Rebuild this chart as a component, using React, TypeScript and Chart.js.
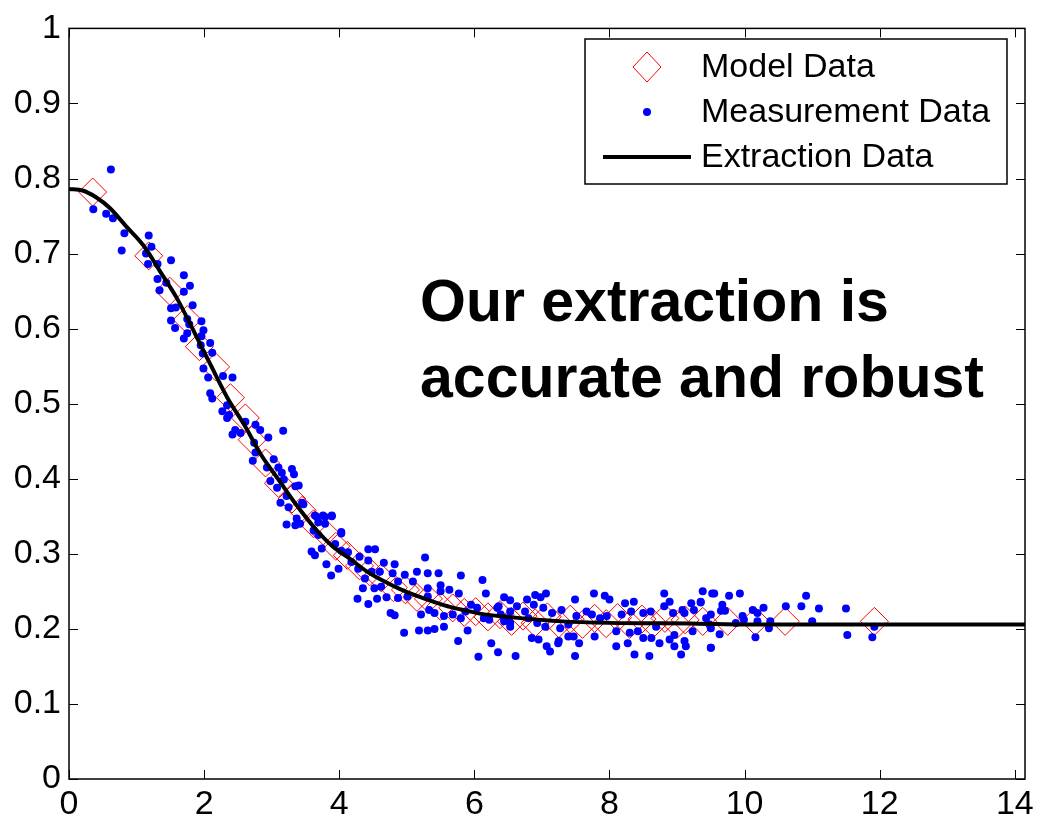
import React, { useEffect, useRef } from 'react';
import { Chart, registerables } from 'chart.js';

Chart.register(...registerables);

const FONT = "'Liberation Sans', Arial, sans-serif";

const xTickValues = [0, 2, 4, 6, 8, 10, 12, 14];
const yTickValues = [0, 0.1, 0.2, 0.3, 0.4, 0.5, 0.6, 0.7, 0.8, 0.9, 1];
const xMin = 0;
const xMax = 14.15;
const yMin = 0;
const yMax = 1;

const legendLabels = ['Model Data', 'Measurement Data', 'Extraction Data'];
const annotationLines = ['Our extraction is', 'accurate and robust'];

const extractionX = [0, 0.2, 0.4, 0.6, 0.85, 1.1, 1.35, 1.6, 1.85, 2.1, 2.35, 2.6, 2.85, 3.1, 3.35, 3.65, 3.9, 4.15, 4.4, 4.65, 4.9, 5.15, 5.4, 5.65, 5.9, 6.1, 6.6, 7.3, 8, 9.3, 10, 12, 14.15];
const extractionY = [0.786, 0.784, 0.775, 0.761, 0.736, 0.711, 0.676, 0.640, 0.596, 0.551, 0.507, 0.471, 0.431, 0.399, 0.367, 0.333, 0.310, 0.294, 0.277, 0.264, 0.253, 0.244, 0.236, 0.229, 0.224, 0.220, 0.215, 0.210, 0.208, 0.207, 0.206, 0.206, 0.206];

const modelX = [0.35, 1.18, 1.49, 1.75, 1.93, 2.17, 2.39, 2.61, 2.71, 2.91, 3.10, 3.30, 3.45, 3.62, 3.79, 3.95, 4.12, 4.30, 4.45, 4.62, 4.80, 4.98, 5.15, 5.32, 5.50, 5.68, 5.85, 6.02, 6.20, 6.38, 6.55, 6.72, 6.90, 7.08, 7.25, 7.42, 7.60, 7.78, 7.95, 8.12, 8.30, 8.48, 8.65, 8.82, 9.00, 9.12, 9.38, 9.75, 10.16, 10.60, 11.92];
const modelY = [0.782, 0.697, 0.650, 0.612, 0.576, 0.549, 0.508, 0.481, 0.452, 0.421, 0.394, 0.373, 0.358, 0.340, 0.328, 0.310, 0.298, 0.284, 0.276, 0.268, 0.255, 0.252, 0.242, 0.240, 0.230, 0.228, 0.222, 0.223, 0.216, 0.219, 0.210, 0.217, 0.208, 0.216, 0.207, 0.213, 0.206, 0.214, 0.207, 0.215, 0.206, 0.213, 0.207, 0.214, 0.206, 0.212, 0.210, 0.210, 0.210, 0.210, 0.210];

const measX = [
  0.62, 0.36, 0.55, 0.65, 0.82, 0.78, 1.18, 1.22, 1.14, 1.17, 1.31, 1.51, 1.31, 1.44, 1.34, 1.70, 1.79, 1.70, 1.83, 1.51,
  1.58, 1.51, 1.57, 1.75, 1.78, 1.96, 1.99, 1.70, 1.75, 1.96, 1.95, 2.09, 2.12,
  1.98, 1.99, 2.06, 2.28, 2.42, 2.09, 2.12, 2.34, 2.27, 2.37, 2.34, 2.61, 2.76, 2.83, 2.46, 2.54, 2.42, 2.95, 3.17, 2.74,
  2.76, 2.72, 3.03, 2.93, 3.10, 3.30, 3.33, 3.15, 2.98, 3.18, 3.35, 3.08, 3.22, 3.13, 3.45, 3.25, 3.64, 3.79, 3.89, 3.69,
  3.37, 3.22, 3.35, 4.03,
  3.40, 3.47, 3.42, 3.67, 3.76, 3.89, 3.79, 3.62, 3.69, 4.03, 3.59, 3.74, 3.64, 3.94, 4.03, 4.13, 3.81, 3.99, 3.88, 4.18,
  4.30, 4.43, 4.53, 4.43, 4.66, 4.82, 4.28, 4.48, 4.60, 4.38, 4.35, 4.52, 4.62, 4.27, 4.43, 4.56, 4.70, 4.79, 4.87, 4.97,
  5.09, 4.87, 5.01, 4.76, 4.82, 5.15, 5.27, 5.31, 5.47, 5.31, 5.31, 5.50, 5.50, 5.63, 5.77, 5.80, 6.12, 6.17, 6.44, 6.53,
  5.21, 5.33, 5.41, 5.55, 5.68, 5.80, 5.87, 5.95, 6.04, 6.14, 6.22, 6.34, 6.44, 6.53, 5.18, 5.31, 5.41, 5.55, 4.96, 5.76,
  5.90, 6.25, 6.06, 6.35, 6.61,
  6.36, 6.53, 6.63, 6.78, 6.90, 6.98, 7.06, 6.88, 6.75, 7.02, 7.15, 7.29, 7.49, 6.44, 6.53, 6.80, 6.93, 7.05, 7.27, 7.39,
  7.51, 7.66, 7.77, 7.93, 8.00, 7.74, 7.86, 7.96, 6.85, 6.95, 7.07, 7.12, 7.25, 7.39, 7.47, 7.55, 7.49, 7.24, 7.78, 8.10,
  8.10, 8.27, 8.37, 8.23, 8.36, 8.18, 8.32, 8.50, 8.61, 8.30, 8.42, 8.50, 8.62, 8.59, 8.74, 8.69, 8.81, 8.89, 8.81, 8.94,
  8.89, 8.96, 8.96, 9.06, 9.08, 9.11, 9.11, 9.13, 9.23, 9.21, 9.25, 9.35, 9.38, 9.52, 9.50, 9.50, 9.48, 6.39, 6.49,
  9.55, 9.77, 9.93, 9.35, 9.67, 9.65, 9.71, 9.43, 9.50, 9.63, 9.50, 9.87, 9.97, 9.99, 10.12, 10.19, 10.28, 10.19, 10.16,
  10.36, 10.38, 10.61, 10.84, 10.91, 11.10, 11.00, 11.50, 11.52, 11.92, 11.89
];
const measY = [
  0.812, 0.759, 0.753, 0.747, 0.727, 0.704, 0.724, 0.709, 0.700, 0.686, 0.686, 0.691, 0.666, 0.661, 0.651, 0.671, 0.657, 0.649, 0.631, 0.627,
  0.628, 0.611, 0.601, 0.613, 0.606, 0.610, 0.598, 0.587, 0.594, 0.590, 0.578, 0.581, 0.568,
  0.567, 0.547, 0.535, 0.537, 0.535, 0.514, 0.507, 0.498, 0.490, 0.485, 0.481, 0.476, 0.472, 0.465, 0.465, 0.461, 0.459, 0.455, 0.464, 0.448,
  0.435, 0.424, 0.426, 0.415, 0.415, 0.413, 0.406, 0.408, 0.397, 0.399, 0.390, 0.388, 0.377, 0.368, 0.368, 0.362, 0.351, 0.349, 0.350, 0.342,
  0.347, 0.339, 0.338, 0.329,
  0.391, 0.366, 0.340, 0.349, 0.351, 0.351, 0.340, 0.331, 0.325, 0.327, 0.303, 0.307, 0.298, 0.313, 0.304, 0.302, 0.286, 0.280, 0.271, 0.289,
  0.296, 0.306, 0.306, 0.291, 0.288, 0.286, 0.280, 0.276, 0.276, 0.267, 0.254, 0.254, 0.256, 0.240, 0.233, 0.240, 0.242, 0.274, 0.263, 0.272,
  0.263, 0.241, 0.243, 0.221, 0.218, 0.276, 0.295, 0.274, 0.274, 0.254, 0.243, 0.258, 0.250, 0.252, 0.247, 0.271, 0.265, 0.247, 0.242, 0.238,
  0.219, 0.225, 0.221, 0.217, 0.219, 0.214, 0.223, 0.232, 0.228, 0.214, 0.212, 0.228, 0.214, 0.208, 0.198, 0.198, 0.200, 0.203, 0.195, 0.184,
  0.198, 0.181, 0.163, 0.169, 0.164,
  0.230, 0.223, 0.230, 0.239, 0.245, 0.242, 0.247, 0.232, 0.223, 0.228, 0.221, 0.225, 0.239, 0.210, 0.203, 0.214, 0.208, 0.203, 0.201, 0.206,
  0.217, 0.223, 0.247, 0.244, 0.239, 0.219, 0.214, 0.217, 0.188, 0.186, 0.177, 0.170, 0.184, 0.190, 0.190, 0.181, 0.164, 0.181, 0.190, 0.197,
  0.177, 0.181, 0.166, 0.234, 0.236, 0.219, 0.223, 0.221, 0.223, 0.195, 0.197, 0.188, 0.188, 0.164, 0.181, 0.203, 0.247, 0.236, 0.230, 0.221,
  0.186, 0.192, 0.177, 0.166, 0.225, 0.221, 0.184, 0.177, 0.197, 0.234, 0.225, 0.235, 0.250, 0.247, 0.219, 0.175, 0.206, 0.219, 0.214,
  0.247, 0.244, 0.247, 0.236, 0.232, 0.224, 0.224, 0.214, 0.201, 0.193, 0.175, 0.208, 0.217, 0.212, 0.225, 0.221, 0.228, 0.210, 0.189,
  0.201, 0.210, 0.230, 0.230, 0.244, 0.227, 0.210, 0.227, 0.192, 0.203, 0.189
];

const toPoints = (xs: number[], ys: number[]) => xs.map((x, i) => ({ x, y: ys[i] }));

const framePlugin = {
  id: 'matlabFrame',
  afterDatasetsDraw(chart: any) {
    const { ctx, chartArea } = chart;
    const xs = chart.scales.x;
    const ys = chart.scales.y;
    const { left, right, top, bottom } = chartArea;
    ctx.save();
    // annotation text
    ctx.fillStyle = '#000';
    ctx.font = `bold 59px ${FONT}`;
    ctx.textAlign = 'left';
    ctx.textBaseline = 'alphabetic';
    ctx.fillText(annotationLines[0], 420, 321);
    ctx.fillText(annotationLines[1], 420, 397);

    // frame
    ctx.strokeStyle = '#000';
    ctx.lineWidth = 1.5;
    ctx.strokeRect(left, top, right - left, bottom - top);
    // ticks inward
    const tl = 9;
    ctx.lineWidth = 1;
    ctx.beginPath();
    xTickValues.forEach((v) => {
      const px = Math.round(xs.getPixelForValue(v)) + 0.5;
      ctx.moveTo(px, bottom);
      ctx.lineTo(px, bottom - tl);
      ctx.moveTo(px, top);
      ctx.lineTo(px, top + tl);
    });
    yTickValues.forEach((v) => {
      const py = Math.round(ys.getPixelForValue(v)) + 0.5;
      ctx.moveTo(left, py);
      ctx.lineTo(left + tl, py);
      ctx.moveTo(right, py);
      ctx.lineTo(right - tl, py);
    });
    ctx.stroke();

    // legend
    const bx = 585, by = 39, bw = 422, bh = 145;
    ctx.fillStyle = '#fff';
    ctx.fillRect(bx, by, bw, bh);
    ctx.lineWidth = 1.5;
    ctx.strokeStyle = '#000';
    ctx.strokeRect(bx, by, bw, bh);
    const mx = 647;
    const rows = [67, 112, 157];
    // diamond
    ctx.strokeStyle = '#ff0000';
    ctx.lineWidth = 1;
    ctx.beginPath();
    ctx.moveTo(mx - 14, rows[0]);
    ctx.lineTo(mx, rows[0] - 15);
    ctx.lineTo(mx + 14, rows[0]);
    ctx.lineTo(mx, rows[0] + 15);
    ctx.closePath();
    ctx.stroke();
    // dot
    ctx.fillStyle = '#0000ff';
    ctx.beginPath();
    ctx.arc(mx, rows[1], 4, 0, Math.PI * 2);
    ctx.fill();
    // line
    ctx.strokeStyle = '#000';
    ctx.lineWidth = 4;
    ctx.beginPath();
    ctx.moveTo(603, rows[2]);
    ctx.lineTo(691, rows[2]);
    ctx.stroke();
    // labels
    ctx.fillStyle = '#000';
    ctx.font = `34px ${FONT}`;
    ctx.textBaseline = 'middle';
    legendLabels.forEach((t, i) => ctx.fillText(t, 701, rows[i] + 1));
    ctx.restore();
  },
};

export default function App() {
  const canvasRef = useRef<HTMLCanvasElement | null>(null);

  useEffect(() => {
    document.body.style.margin = '0';
    const canvas = canvasRef.current;
    if (!canvas) return;
    const chart = new Chart(canvas, {
      type: 'scatter',
      data: {
        datasets: [
          {
            label: legendLabels[2],
            data: toPoints(extractionX, extractionY),
            showLine: true,
            borderColor: '#000',
            borderWidth: 4,
            pointRadius: 0,
            cubicInterpolationMode: 'monotone',
            order: 0,
          },
          {
            label: legendLabels[1],
            data: toPoints(measX, measY),
            pointStyle: 'circle',
            pointRadius: 4,
            backgroundColor: '#0000ff',
            borderColor: '#0000ff',
            borderWidth: 0,
            order: 1,
          },
          {
            label: legendLabels[0],
            data: toPoints(modelX, modelY),
            pointStyle: 'rectRot',
            pointRadius: 14,
            backgroundColor: 'rgba(0,0,0,0)',
            borderColor: '#ff0000',
            borderWidth: 1,
            order: 2,
          },
        ],
      },
      options: {
        responsive: false,
        animation: false,
        devicePixelRatio: 1,
        layout: { padding: { top: 22, right: 9, left: 0, bottom: 0 } },
        plugins: {
          legend: { display: false },
          tooltip: { enabled: false },
        },
        scales: {
          x: {
            type: 'linear',
            min: xMin,
            max: xMax,
            grid: { display: false, drawTicks: false },
            border: { display: false },
            afterBuildTicks: (scale: any) => {
              scale.ticks = xTickValues.map((v) => ({ value: v }));
            },
            afterFit: (scale: any) => {
              scale.height = 40;
            },
            ticks: {
              color: '#000',
              padding: 5,
              maxRotation: 0,
              autoSkip: false,
              font: { family: FONT, size: 34 },
              callback: (v: any) => String(v),
            },
          },
          y: {
            type: 'linear',
            min: yMin,
            max: yMax,
            grid: { display: false, drawTicks: false },
            border: { display: false },
            afterBuildTicks: (scale: any) => {
              scale.ticks = yTickValues.map((v) => ({ value: v }));
            },
            afterFit: (scale: any) => {
              scale.width = 69;
            },
            ticks: {
              color: '#000',
              padding: 8,
              autoSkip: false,
              font: { family: FONT, size: 34 },
              callback: (v: any) => String(Math.round(Number(v) * 10) / 10),
            },
          },
        },
      },
      plugins: [framePlugin],
    } as any);
    return () => chart.destroy();
  }, []);

  return (
    <div style={{ width: 1040, height: 819, background: '#fff' }}>
      <canvas ref={canvasRef} width={1040} height={819} style={{ display: 'block' }} />
    </div>
  );
}
